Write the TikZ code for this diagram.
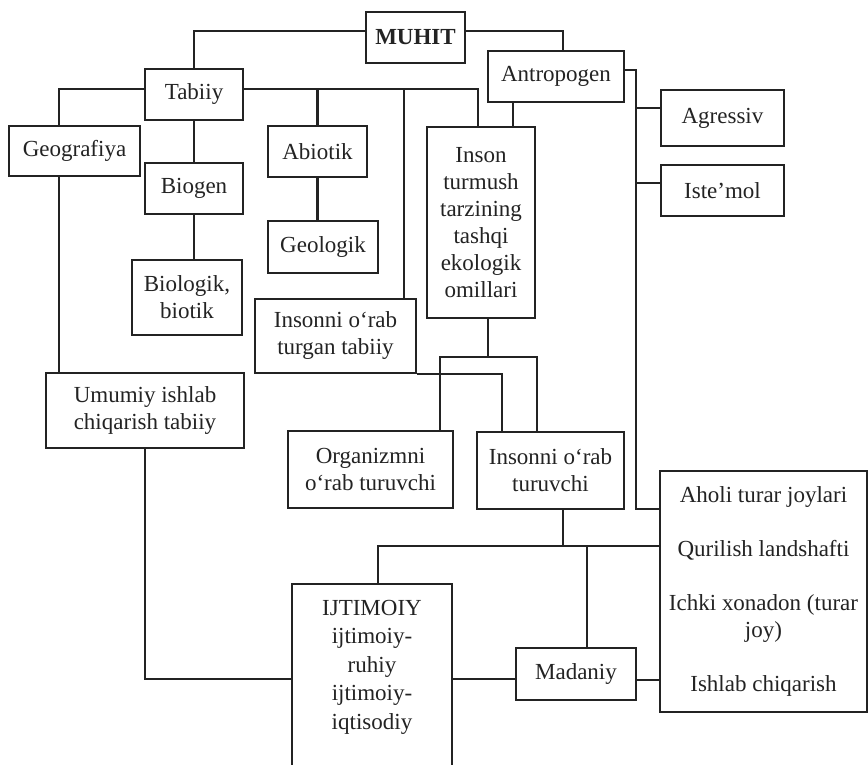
\documentclass[tikz,border=0pt]{standalone}
\usepackage{fontspec}
\setmainfont{Liberation Serif}
\definecolor{inkc}{RGB}{35,35,35}
\begin{document}
\begin{tikzpicture}[x=1pt,y=-1pt,
  box/.style={draw=inkc, line width=2.1pt, rectangle, inner sep=0pt, align=center, text=inkc, font=\fontsize{23}{27}\selectfont},
  txt/.style={inner sep=0pt, align=center, text=inkc, font=\fontsize{23}{28.5}\selectfont},
  conn/.style={draw=inkc, line width=2.1pt}]
\useasboundingbox[fill=white] (0,0) rectangle (868,765);
% nodes
\node[box, minimum width=99pt, minimum height=51pt, font=\fontsize{23}{27}\selectfont\bfseries] (muhit) at (415.5,37.5) {MUHIT};
\node[box, minimum width=98pt, minimum height=51pt] (tabiiy) at (194,94.5) {Tabiiy};
\node[box, minimum width=136pt, minimum height=51pt] (antro) at (556,76.5) {Antropogen};
\node[box, minimum width=131pt, minimum height=50pt] (geo) at (74.5,151) {Geografiya};
\node[box, minimum width=98pt, minimum height=51pt] (biogen) at (194,188.5) {Biogen};
\node[box, minimum width=110pt, minimum height=75pt] (bio) at (187,297.5) {Biologik,\\ biotik};
\node[box, minimum width=99pt, minimum height=51pt] (abiotik) at (317.5,151.5) {Abiotik};
\node[box, minimum width=110pt, minimum height=52pt] (geolog) at (323,247) {Geologik};
\node[box, minimum width=108pt, minimum height=191pt] (inson) at (481,222.5) {Inson\\ turmush\\ tarzining\\ tashqi\\ ekologik\\ omillari};
\node[box, minimum width=123pt, minimum height=56pt] (agr) at (722.5,118) {Agressiv};
\node[box, minimum width=123pt, minimum height=51pt] (istemol) at (722.5,190.5) {Iste’mol};
\node[box, minimum width=161pt, minimum height=74pt] (turgan) at (335.5,336) {Insonni o‘rab\\ turgan tabiiy};
\node[box, minimum width=198pt, minimum height=75pt] (umumiy) at (145,410.5) {Umumiy ishlab\\ chiqarish tabiiy};
\node[box, minimum width=165pt, minimum height=77pt] (organ) at (370.5,469.5) {Organizmni\\ o‘rab turuvchi};
\node[box, minimum width=147pt, minimum height=77pt] (turuv) at (550.5,470.5) {Insonni o‘rab\\ turuvchi};
\node[box, minimum width=207pt, minimum height=241pt] (aholi) at (763.5,591.5) {Aholi turar joylari\\[27pt] Qurilish landshafti\\[27pt] Ichki xonadon (turar\\ joy)\\[27pt] Ishlab chiqarish};
\node[box, minimum width=160pt, minimum height=191pt] (ij) at (372,679.5) {};
\node[txt] (ijt) at (372,667) {IJTIMOIY\\ ijtimoiy-\\ ruhiy\\ ijtimoiy-\\ iqtisodiy};
\node[box, minimum width=120pt, minimum height=52pt] (madaniy) at (576,674) {Madaniy};
% helper coordinates
\coordinate (tbar) at ([yshift=5.5pt]tabiiy.east);
\coordinate (vbar) at ([shift={(-23pt,82.5pt)}]aholi.west);
\coordinate (agrc) at ([yshift=10pt]agr.west);
\coordinate (istc) at ([yshift=7.5pt]istemol.west);
\coordinate (ib) at ([xshift=7pt]inson.south);
\coordinate (ibar) at ([yshift=-38pt]ib);
\coordinate (tb2) at ([yshift=45.5pt]aholi.west);
\coordinate (ts) at ([xshift=12.5pt]turuv.south);
\coordinate (mt) at ([xshift=11pt]madaniy.north);
\coordinate (me) at ([yshift=-6pt]madaniy.east);
\coordinate (mw) at ([yshift=-5pt]madaniy.west);
\coordinate (bs) at (biogen.south);
\coordinate (as) at (abiotik.south);
\coordinate (gs) at ([xshift=-15.5pt]geo.south);
\coordinate (an) at ([xshift=-43pt]antro.south);
% connectors
\draw[conn] ([yshift=6.5pt]muhit.west) -| (tabiiy.north);
\draw[conn] ([yshift=6.5pt]muhit.east) -| ([xshift=7pt]antro.north);
\draw[conn] ([yshift=5.5pt]tabiiy.west) -| ([xshift=-15.5pt]geo.north);
\draw[conn] (tbar) -| ([xshift=-3pt]inson.north);
\draw[conn] (abiotik.north) -- (abiotik.north |- tbar);
\draw[conn] ([xshift=68.5pt]turgan.north) -- ([xshift=68.5pt]turgan.north |- tbar);
\draw[conn] (tabiiy.south) -- (biogen.north);
\draw[conn] (bs) -- (bs |- bio.north);
\draw[conn] (as) -- (as |- geolog.north);
\draw[conn] (gs) -- (gs |- umumiy.north);
\draw[conn] (an) -- (an |- inson.north);
\draw[conn] ([yshift=6.5pt]antro.east) -| (vbar) -- (vbar -| aholi.west);
\draw[conn] (agrc) -- (agrc -| vbar);
\draw[conn] (istc) -- (istc -| vbar);
\draw[conn] (ib) -- (ibar);
\draw[conn] ([xshift=69.5pt]organ.north) |- (ibar) -| ([xshift=-13.5pt]turuv.north);
\draw[conn] (turgan.south east) -| ([xshift=-48.5pt]turuv.north);
\draw[conn] (ts) -- (ts |- tb2);
\draw[conn] ([xshift=6pt]ij.north) |- (tb2);
\draw[conn] (mt) -- (mt |- tb2);
\draw[conn] (me) -- (me -| aholi.west);
\draw[conn] (mw) -- (mw -| ij.east);
\draw[conn] (umumiy.south) |- (mw -| ij.west);
\end{tikzpicture}
\end{document}
